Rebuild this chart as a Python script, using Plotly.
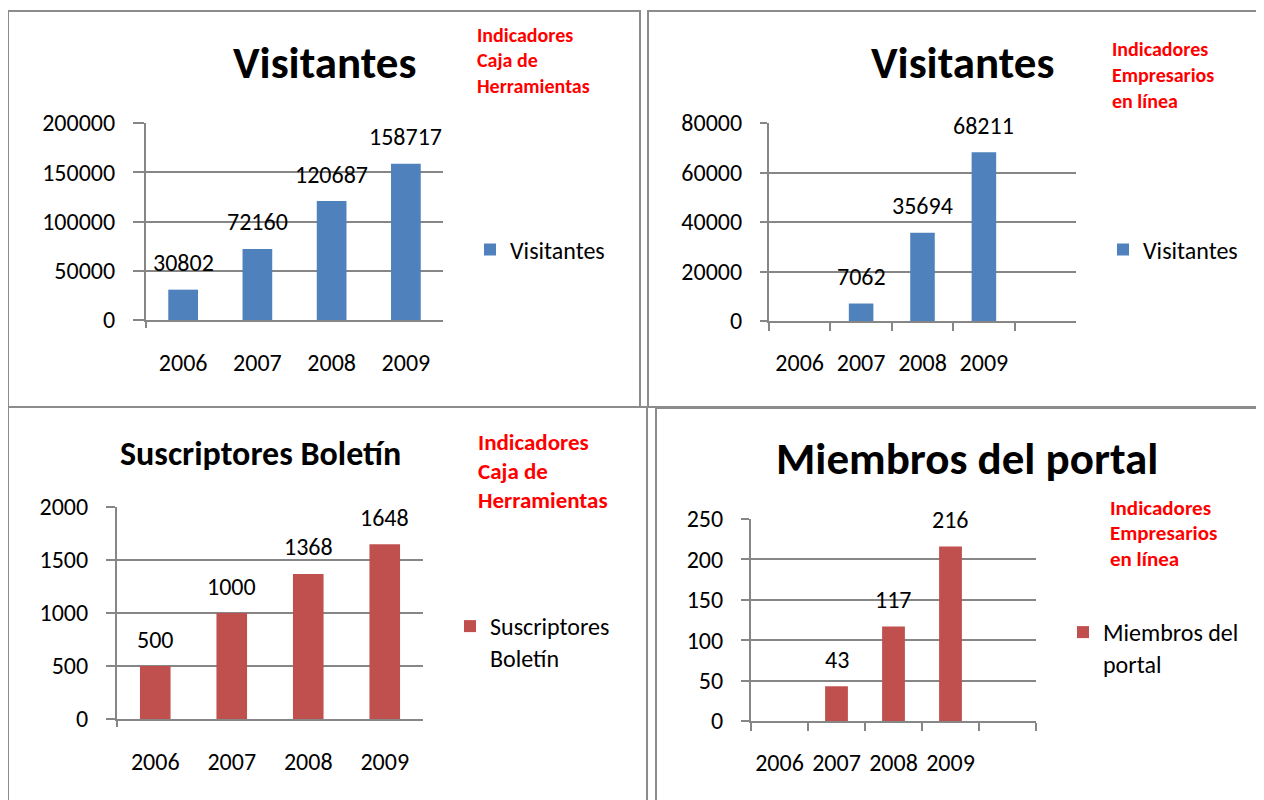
import plotly.graph_objects as go

W, H = 1264, 800
OFF = 8  # page body margin of the written html

# ---------------- data ----------------
years = ["2006", "2007", "2008", "2009"]
years_ext = ["2006", "2007", "2008", "2009", " "]

visitantes_caja = [30802, 72160, 120687, 158717]
visitantes_emp = [None, 7062, 35694, 68211]
suscriptores_caja = [500, 1000, 1368, 1648]
miembros_emp = [None, 43, 117, 216]

titles = ["Visitantes", "Visitantes", "Suscriptores Boletín", "Miembros del portal"]
series_names = ["Visitantes", "Visitantes", "Suscriptores<br>Boletín", "Miembros del<br>portal"]
notes_caja = ["Indicadores", "Caja de", "Herramientas"]
notes_emp = ["Indicadores", "Empresarios", "en línea"]

BLUE = "#4F81BD"
RED = "#C0504D"
GRID = "#868686"
BORDER = "#8c8c8c"
FONT = "Carlito, Lato, sans-serif"
FS = 24


def px(v):
    return (v - OFF) / W


def py(v):
    return 1 - (v - OFF) / H


panels = [
    dict(vals=visitantes_caja, cats=years, order=years, color=BLUE,
         plot=(146, 443, 123, 320), ymax=200000, dtick=50000, ticklen=11, bounds=False,
         title=(324.5, 62, 45), notes=notes_caja, notes_pos=(475, [35, 60, 86], 20),
         legend=(470, 250)),
    dict(vals=visitantes_emp, cats=years, order=years_ext, color=BLUE,
         plot=(769, 1076, 123, 321), ymax=80000, dtick=20000, ticklen=7, bounds=True,
         title=(962.5, 62, 45), notes=notes_emp, notes_pos=(1110, [49, 75, 101], 20),
         legend=(1103, 250)),
    dict(vals=suscriptores_caja, cats=years, order=years, color=RED,
         plot=(117, 423, 507, 719), ymax=2000, dtick=500, ticklen=9, bounds=False,
         title=(260.5, 453, 34), notes=notes_caja, notes_pos=(476, [442, 471, 500], 23),
         legend=(450, 642)),
    dict(vals=miembros_emp, cats=years, order=years_ext, color=RED,
         plot=(751, 1036, 519, 721), ymax=250, dtick=50, ticklen=8, bounds=True,
         title=(966.5, 458, 45), notes=notes_emp, notes_pos=(1108, [508, 533, 559], 21),
         legend=(1063, 648)),
]

fig = go.Figure()
annotations = []
shapes = []
layout = {}

for i, p in enumerate(panels, start=1):
    sx = "" if i == 1 else str(i)
    xa, ya = "x" + sx, "y" + sx
    lg = "legend" if i == 1 else "legend" + str(i)
    x0, x1, y0, y1 = p["plot"]

    fig.add_trace(go.Bar(
        x=p["cats"], y=p["vals"], name=series_names[i - 1],
        marker=dict(color=p["color"], line=dict(width=0)),
        xaxis=xa, yaxis=ya, legend=lg, showlegend=True, hoverinfo="x+y",
    ))

    xaxis = dict(
        domain=[px(x0), px(x1)], anchor=ya, type="category",
        categoryorder="array", categoryarray=p["order"],
        range=[-0.5, len(p["order"]) - 0.5],
        showline=True, linecolor=GRID, linewidth=2, showgrid=False, zeroline=False,
        tickfont=dict(family=FONT, size=FS, color="black"), tickangle=0,
        fixedrange=True,
    )
    if p["bounds"]:
        xaxis.update(ticks="outside", tickson="boundaries", ticklen=8,
                     tickcolor=GRID, tickwidth=2, ticklabelstandoff=19)
    else:
        xaxis.update(ticks="", ticklabelstandoff=20)
    yaxis = dict(
        domain=[py(y1), py(y0)], anchor=xa, range=[0, p["ymax"]], dtick=p["dtick"],
        tickformat="d", showgrid=True, gridcolor=GRID, gridwidth=2,
        showline=True, linecolor=GRID, linewidth=2, zeroline=False,
        ticks="outside", ticklen=p["ticklen"], tickcolor=GRID, tickwidth=2,
        tickfont=dict(family=FONT, size=FS, color="black"),
        ticklabelstandoff=13, fixedrange=True,
    )
    layout["xaxis" + sx] = xaxis
    layout["yaxis" + sx] = yaxis

    # y-axis line stub below the category axis (left panels)
    if not p["bounds"]:
        shapes.append(dict(type="line", xref=xa + " domain", yref=ya + " domain",
                           x0=0, x1=0, y0=0, y1=-8 / (y1 - y0),
                           line=dict(color=GRID, width=2)))

    # data labels (category position given by its index on the category axis)
    for c, v in zip(p["cats"], p["vals"]):
        if v is None:
            continue
        annotations.append(dict(x=p["order"].index(c), y=v, xref=xa, yref=ya,
                                text=str(v), showarrow=False, yshift=27,
                                xanchor="center", yanchor="middle",
                                font=dict(family=FONT, size=FS, color="black")))

    # title
    tx, ty, ts = p["title"]
    annotations.append(dict(x=px(tx), y=py(ty), xref="paper", yref="paper",
                            text=titles[i - 1], showarrow=False,
                            xanchor="center", yanchor="middle",
                            font=dict(family=FONT, size=ts, color="black", weight="bold")))

    # red notes
    nx, nys, ns = p["notes_pos"]
    for line, ny in zip(p["notes"], nys):
        annotations.append(dict(x=px(nx), y=py(ny), xref="paper", yref="paper",
                                text=line, showarrow=False, xanchor="left", yanchor="middle",
                                font=dict(family=FONT, size=ns, color="#FF0000", weight="bold")))

    lx, ly = p["legend"]
    layout[lg] = dict(x=px(lx), y=py(ly), xanchor="left", yanchor="middle",
                      valign="top", bgcolor="rgba(0,0,0,0)", borderwidth=0,
                      font=dict(family=FONT, size=FS, color="black"),
                      itemclick=False, itemdoubleclick=False)

# panel borders (document frames)
for bx0, bx1, by0, by1 in [(8, 640, 11, 407), (648, 1290, 11, 407),
                           (8, 647, 407, 830), (656, 1290, 408, 830)]:
    shapes.append(dict(type="rect", xref="paper", yref="paper",
                       x0=px(bx0), x1=px(bx1), y0=py(by1), y1=py(by0),
                       line=dict(color=BORDER, width=2), fillcolor="rgba(0,0,0,0)",
                       layer="below"))

fig.update_layout(
    width=W, height=H, margin=dict(l=0, r=0, t=0, b=0, autoexpand=False),
    paper_bgcolor="white", plot_bgcolor="white",
    bargap=0.6, annotations=annotations, shapes=shapes,
    font=dict(family=FONT, color="black"),
    **layout,
)

fig.write_html("out.html")
